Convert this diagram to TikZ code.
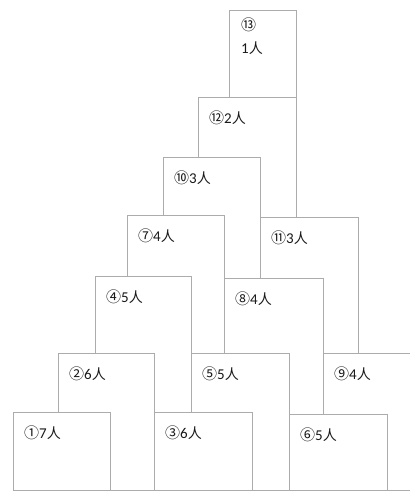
\documentclass[tikz,border=0pt]{standalone}
\usepackage{fontspec}
\newfontfamily\cjk{Noto Sans CJK SC}
\newfontfamily\numfont{Carlito}
\usetikzlibrary{positioning}

% 圈号 + 人数
\newcommand{\quan}[1]{{\cjk\fontsize{15}{16}\selectfont #1}}
\newcommand{\renshu}[1]{{\numfont\fontsize{15}{16}\selectfont #1}{\cjk\fontsize{14}{16}\selectfont 人}}

\tikzset{
    boxline/.style={draw=gray!65, fill=white, line width=0.7pt},
    lbl/.style={text=black!90, inner sep=0pt}
}

\begin{document}
\begin{tikzpicture}[x=1pt, y=-1pt]
    \useasboundingbox (0,0) rectangle (409,494);
    % 最上层的盒子
    \filldraw[boxline] (229,10) rectangle (296,490);
    \node[lbl, anchor=north west, align=left] (b13) at (241,18) {\quan{⑬}\\[9pt]\renshu{1}};
    % 其余盒子，从上往下画
    \foreach \n/\x/\y/\w/\q/\k in {12/198/97/98/⑫/2, 11/260/217/98/⑪/3,
        10/163/157/97/⑩/3, 9/323/353/97/⑨/4, 8/224/278/99/⑧/4,
        7/127/215/97/⑦/4, 6/289/414/98/⑥/5, 5/191/353/98/⑤/5,
        4/95/276/96/④/5, 3/154/412/98/③/6, 2/58/353/96/②/6,
        1/13/412/97/①/7} {
        \filldraw[boxline] (\x,\y) rectangle (\x+\w,490);
        \node[lbl, anchor=west] (b\n) at (\x+11,\y+21) {\quan{\q}\renshu{\k}};
    }
\end{tikzpicture}
\end{document}
